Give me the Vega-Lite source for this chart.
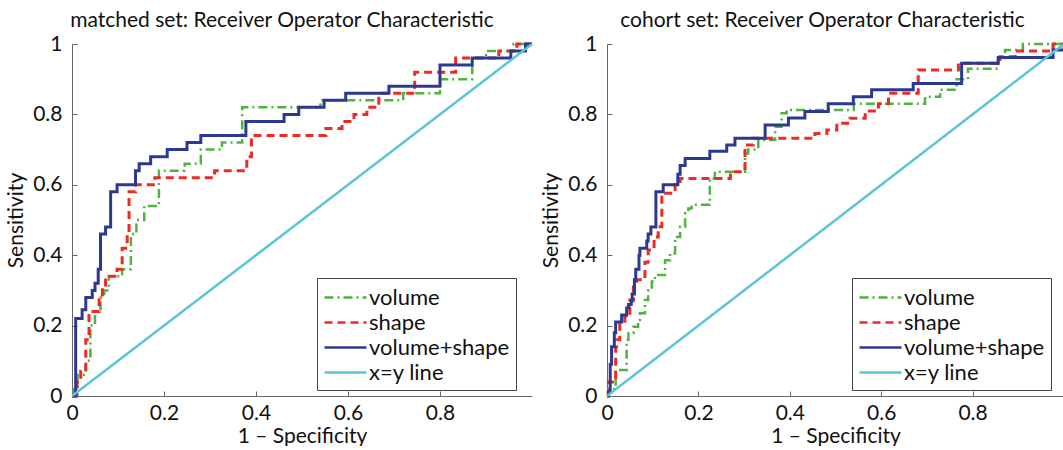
{
  "$schema": "https://vega.github.io/schema/vega-lite/v6.json",
  "background": "white",
  "padding": {"left": 5, "top": 10, "right": 0, "bottom": 0},
  "config": {
    "font": "Lato",
    "view": {"stroke": null},
    "concat": {"spacing": 2},
    "axis": {"grid": false, "domainColor": "#666", "domainWidth": 1, "tickColor": "#666", "tickSize": -5, "labelFontSize": 21, "labelColor": "#111", "titleFontSize": 21, "titleFontWeight": "normal", "titleColor": "#111", "labelFont": "Lato", "titleFont": "Lato", "labelFlush": false},
    "axisY": {"labelPadding": 15, "titlePadding": 6},
    "axisX": {"labelPadding": 11, "titlePadding": 2},
    "title": {"fontSize": 21, "fontWeight": "normal", "color": "#111", "font": "Lato", "offset": 2},
    "legend": {"labelFontSize": 22, "labelFont": "Lato", "labelColor": "#111", "strokeColor": "#444", "fillColor": "white", "padding": 6, "symbolType": "M-1.75,0H1.75", "symbolSize": 576, "symbolStrokeWidth": 2.5, "rowPadding": 0, "labelOffset": 10, "symbolOffset": 9}
  },
  "datasets": {
    "roc": [
      {"panel": "matched", "series": "volume", "fpr": 0, "tpr": 0},
      {"panel": "matched", "series": "volume", "fpr": 0.004, "tpr": 0.02},
      {"panel": "matched", "series": "volume", "fpr": 0.012, "tpr": 0.06},
      {"panel": "matched", "series": "volume", "fpr": 0.03, "tpr": 0.10},
      {"panel": "matched", "series": "volume", "fpr": 0.04, "tpr": 0.20},
      {"panel": "matched", "series": "volume", "fpr": 0.05, "tpr": 0.24},
      {"panel": "matched", "series": "volume", "fpr": 0.062, "tpr": 0.28},
      {"panel": "matched", "series": "volume", "fpr": 0.07, "tpr": 0.30},
      {"panel": "matched", "series": "volume", "fpr": 0.08, "tpr": 0.34},
      {"panel": "matched", "series": "volume", "fpr": 0.109, "tpr": 0.36},
      {"panel": "matched", "series": "volume", "fpr": 0.128, "tpr": 0.46},
      {"panel": "matched", "series": "volume", "fpr": 0.14, "tpr": 0.50},
      {"panel": "matched", "series": "volume", "fpr": 0.157, "tpr": 0.54},
      {"panel": "matched", "series": "volume", "fpr": 0.189, "tpr": 0.64},
      {"panel": "matched", "series": "volume", "fpr": 0.245, "tpr": 0.66},
      {"panel": "matched", "series": "volume", "fpr": 0.28, "tpr": 0.70},
      {"panel": "matched", "series": "volume", "fpr": 0.326, "tpr": 0.72},
      {"panel": "matched", "series": "volume", "fpr": 0.37, "tpr": 0.82},
      {"panel": "matched", "series": "volume", "fpr": 0.54, "tpr": 0.84},
      {"panel": "matched", "series": "volume", "fpr": 0.72, "tpr": 0.86},
      {"panel": "matched", "series": "volume", "fpr": 0.80, "tpr": 0.90},
      {"panel": "matched", "series": "volume", "fpr": 0.87, "tpr": 0.96},
      {"panel": "matched", "series": "volume", "fpr": 0.90, "tpr": 0.98},
      {"panel": "matched", "series": "volume", "fpr": 0.96, "tpr": 1.0},
      {"panel": "matched", "series": "volume", "fpr": 1.0, "tpr": 1.0},

      {"panel": "matched", "series": "shape", "fpr": 0, "tpr": 0},
      {"panel": "matched", "series": "shape", "fpr": 0.011, "tpr": 0.04},
      {"panel": "matched", "series": "shape", "fpr": 0.019, "tpr": 0.07},
      {"panel": "matched", "series": "shape", "fpr": 0.03, "tpr": 0.16},
      {"panel": "matched", "series": "shape", "fpr": 0.037, "tpr": 0.24},
      {"panel": "matched", "series": "shape", "fpr": 0.059, "tpr": 0.28},
      {"panel": "matched", "series": "shape", "fpr": 0.066, "tpr": 0.31},
      {"panel": "matched", "series": "shape", "fpr": 0.073, "tpr": 0.34},
      {"panel": "matched", "series": "shape", "fpr": 0.098, "tpr": 0.36},
      {"panel": "matched", "series": "shape", "fpr": 0.109, "tpr": 0.42},
      {"panel": "matched", "series": "shape", "fpr": 0.12, "tpr": 0.46},
      {"panel": "matched", "series": "shape", "fpr": 0.124, "tpr": 0.58},
      {"panel": "matched", "series": "shape", "fpr": 0.138, "tpr": 0.60},
      {"panel": "matched", "series": "shape", "fpr": 0.18, "tpr": 0.62},
      {"panel": "matched", "series": "shape", "fpr": 0.31, "tpr": 0.64},
      {"panel": "matched", "series": "shape", "fpr": 0.38, "tpr": 0.68},
      {"panel": "matched", "series": "shape", "fpr": 0.39, "tpr": 0.74},
      {"panel": "matched", "series": "shape", "fpr": 0.552, "tpr": 0.76},
      {"panel": "matched", "series": "shape", "fpr": 0.587, "tpr": 0.78},
      {"panel": "matched", "series": "shape", "fpr": 0.613, "tpr": 0.80},
      {"panel": "matched", "series": "shape", "fpr": 0.641, "tpr": 0.82},
      {"panel": "matched", "series": "shape", "fpr": 0.667, "tpr": 0.86},
      {"panel": "matched", "series": "shape", "fpr": 0.745, "tpr": 0.92},
      {"panel": "matched", "series": "shape", "fpr": 0.834, "tpr": 0.96},
      {"panel": "matched", "series": "shape", "fpr": 0.928, "tpr": 0.98},
      {"panel": "matched", "series": "shape", "fpr": 0.967, "tpr": 1.0},
      {"panel": "matched", "series": "shape", "fpr": 1.0, "tpr": 1.0},

      {"panel": "matched", "series": "volume+shape", "fpr": 0, "tpr": 0},
      {"panel": "matched", "series": "volume+shape", "fpr": 0.008, "tpr": 0.22},
      {"panel": "matched", "series": "volume+shape", "fpr": 0.022, "tpr": 0.245},
      {"panel": "matched", "series": "volume+shape", "fpr": 0.03, "tpr": 0.28},
      {"panel": "matched", "series": "volume+shape", "fpr": 0.044, "tpr": 0.30},
      {"panel": "matched", "series": "volume+shape", "fpr": 0.05, "tpr": 0.32},
      {"panel": "matched", "series": "volume+shape", "fpr": 0.057, "tpr": 0.36},
      {"panel": "matched", "series": "volume+shape", "fpr": 0.062, "tpr": 0.46},
      {"panel": "matched", "series": "volume+shape", "fpr": 0.073, "tpr": 0.48},
      {"panel": "matched", "series": "volume+shape", "fpr": 0.084, "tpr": 0.58},
      {"panel": "matched", "series": "volume+shape", "fpr": 0.098, "tpr": 0.60},
      {"panel": "matched", "series": "volume+shape", "fpr": 0.138, "tpr": 0.64},
      {"panel": "matched", "series": "volume+shape", "fpr": 0.146, "tpr": 0.66},
      {"panel": "matched", "series": "volume+shape", "fpr": 0.171, "tpr": 0.68},
      {"panel": "matched", "series": "volume+shape", "fpr": 0.207, "tpr": 0.70},
      {"panel": "matched", "series": "volume+shape", "fpr": 0.25, "tpr": 0.72},
      {"panel": "matched", "series": "volume+shape", "fpr": 0.28, "tpr": 0.74},
      {"panel": "matched", "series": "volume+shape", "fpr": 0.378, "tpr": 0.78},
      {"panel": "matched", "series": "volume+shape", "fpr": 0.461, "tpr": 0.80},
      {"panel": "matched", "series": "volume+shape", "fpr": 0.493, "tpr": 0.82},
      {"panel": "matched", "series": "volume+shape", "fpr": 0.548, "tpr": 0.84},
      {"panel": "matched", "series": "volume+shape", "fpr": 0.595, "tpr": 0.86},
      {"panel": "matched", "series": "volume+shape", "fpr": 0.689, "tpr": 0.88},
      {"panel": "matched", "series": "volume+shape", "fpr": 0.80, "tpr": 0.94},
      {"panel": "matched", "series": "volume+shape", "fpr": 0.87, "tpr": 0.96},
      {"panel": "matched", "series": "volume+shape", "fpr": 0.954, "tpr": 0.98},
      {"panel": "matched", "series": "volume+shape", "fpr": 0.986, "tpr": 1.0},
      {"panel": "matched", "series": "volume+shape", "fpr": 1.0, "tpr": 1.0},

      {"panel": "matched", "series": "x=y line", "fpr": 0, "tpr": 0},
      {"panel": "matched", "series": "x=y line", "fpr": 1, "tpr": 1},

      {"panel": "cohort", "series": "volume", "fpr": 0, "tpr": 0},
      {"panel": "cohort", "series": "volume", "fpr": 0.003, "tpr": 0.02},
      {"panel": "cohort", "series": "volume", "fpr": 0.019, "tpr": 0.074},
      {"panel": "cohort", "series": "volume", "fpr": 0.043, "tpr": 0.16},
      {"panel": "cohort", "series": "volume", "fpr": 0.047, "tpr": 0.178},
      {"panel": "cohort", "series": "volume", "fpr": 0.058, "tpr": 0.197},
      {"panel": "cohort", "series": "volume", "fpr": 0.068, "tpr": 0.216},
      {"panel": "cohort", "series": "volume", "fpr": 0.072, "tpr": 0.235},
      {"panel": "cohort", "series": "volume", "fpr": 0.083, "tpr": 0.273},
      {"panel": "cohort", "series": "volume", "fpr": 0.09, "tpr": 0.30},
      {"panel": "cohort", "series": "volume", "fpr": 0.098, "tpr": 0.325},
      {"panel": "cohort", "series": "volume", "fpr": 0.105, "tpr": 0.344},
      {"panel": "cohort", "series": "volume", "fpr": 0.127, "tpr": 0.386},
      {"panel": "cohort", "series": "volume", "fpr": 0.138, "tpr": 0.405},
      {"panel": "cohort", "series": "volume", "fpr": 0.149, "tpr": 0.452},
      {"panel": "cohort", "series": "volume", "fpr": 0.16, "tpr": 0.481},
      {"panel": "cohort", "series": "volume", "fpr": 0.171, "tpr": 0.519},
      {"panel": "cohort", "series": "volume", "fpr": 0.178, "tpr": 0.533},
      {"panel": "cohort", "series": "volume", "fpr": 0.185, "tpr": 0.543},
      {"panel": "cohort", "series": "volume", "fpr": 0.225, "tpr": 0.618},
      {"panel": "cohort", "series": "volume", "fpr": 0.236, "tpr": 0.637},
      {"panel": "cohort", "series": "volume", "fpr": 0.302, "tpr": 0.689},
      {"panel": "cohort", "series": "volume", "fpr": 0.309, "tpr": 0.70},
      {"panel": "cohort", "series": "volume", "fpr": 0.331, "tpr": 0.727},
      {"panel": "cohort", "series": "volume", "fpr": 0.368, "tpr": 0.765},
      {"panel": "cohort", "series": "volume", "fpr": 0.382, "tpr": 0.803},
      {"panel": "cohort", "series": "volume", "fpr": 0.393, "tpr": 0.8125},
      {"panel": "cohort", "series": "volume", "fpr": 0.54, "tpr": 0.83},
      {"panel": "cohort", "series": "volume", "fpr": 0.696, "tpr": 0.85},
      {"panel": "cohort", "series": "volume", "fpr": 0.729, "tpr": 0.87},
      {"panel": "cohort", "series": "volume", "fpr": 0.765, "tpr": 0.90},
      {"panel": "cohort", "series": "volume", "fpr": 0.79, "tpr": 0.93},
      {"panel": "cohort", "series": "volume", "fpr": 0.856, "tpr": 0.96},
      {"panel": "cohort", "series": "volume", "fpr": 0.871, "tpr": 0.983},
      {"panel": "cohort", "series": "volume", "fpr": 0.91, "tpr": 1.0},
      {"panel": "cohort", "series": "volume", "fpr": 1.0, "tpr": 1.0},

      {"panel": "cohort", "series": "shape", "fpr": 0, "tpr": 0},
      {"panel": "cohort", "series": "shape", "fpr": 0.003, "tpr": 0.04},
      {"panel": "cohort", "series": "shape", "fpr": 0.019, "tpr": 0.14},
      {"panel": "cohort", "series": "shape", "fpr": 0.021, "tpr": 0.16},
      {"panel": "cohort", "series": "shape", "fpr": 0.028, "tpr": 0.206},
      {"panel": "cohort", "series": "shape", "fpr": 0.039, "tpr": 0.225},
      {"panel": "cohort", "series": "shape", "fpr": 0.05, "tpr": 0.273},
      {"panel": "cohort", "series": "shape", "fpr": 0.058, "tpr": 0.31},
      {"panel": "cohort", "series": "shape", "fpr": 0.065, "tpr": 0.33},
      {"panel": "cohort", "series": "shape", "fpr": 0.083, "tpr": 0.38},
      {"panel": "cohort", "series": "shape", "fpr": 0.09, "tpr": 0.415},
      {"panel": "cohort", "series": "shape", "fpr": 0.103, "tpr": 0.452},
      {"panel": "cohort", "series": "shape", "fpr": 0.112, "tpr": 0.481},
      {"panel": "cohort", "series": "shape", "fpr": 0.12, "tpr": 0.576},
      {"panel": "cohort", "series": "shape", "fpr": 0.149, "tpr": 0.60},
      {"panel": "cohort", "series": "shape", "fpr": 0.16, "tpr": 0.618},
      {"panel": "cohort", "series": "shape", "fpr": 0.27, "tpr": 0.637},
      {"panel": "cohort", "series": "shape", "fpr": 0.302, "tpr": 0.713},
      {"panel": "cohort", "series": "shape", "fpr": 0.32, "tpr": 0.732},
      {"panel": "cohort", "series": "shape", "fpr": 0.455, "tpr": 0.746},
      {"panel": "cohort", "series": "shape", "fpr": 0.481, "tpr": 0.756},
      {"panel": "cohort", "series": "shape", "fpr": 0.503, "tpr": 0.775},
      {"panel": "cohort", "series": "shape", "fpr": 0.532, "tpr": 0.789},
      {"panel": "cohort", "series": "shape", "fpr": 0.565, "tpr": 0.81},
      {"panel": "cohort", "series": "shape", "fpr": 0.594, "tpr": 0.83},
      {"panel": "cohort", "series": "shape", "fpr": 0.616, "tpr": 0.86},
      {"panel": "cohort", "series": "shape", "fpr": 0.681, "tpr": 0.926},
      {"panel": "cohort", "series": "shape", "fpr": 0.769, "tpr": 0.945},
      {"panel": "cohort", "series": "shape", "fpr": 0.86, "tpr": 0.964},
      {"panel": "cohort", "series": "shape", "fpr": 0.893, "tpr": 0.98},
      {"panel": "cohort", "series": "shape", "fpr": 0.976, "tpr": 1.0},
      {"panel": "cohort", "series": "shape", "fpr": 1.0, "tpr": 1.0},

      {"panel": "cohort", "series": "volume+shape", "fpr": 0, "tpr": 0},
      {"panel": "cohort", "series": "volume+shape", "fpr": 0.003, "tpr": 0.01},
      {"panel": "cohort", "series": "volume+shape", "fpr": 0.007, "tpr": 0.09},
      {"panel": "cohort", "series": "volume+shape", "fpr": 0.010, "tpr": 0.14},
      {"panel": "cohort", "series": "volume+shape", "fpr": 0.016, "tpr": 0.18},
      {"panel": "cohort", "series": "volume+shape", "fpr": 0.019, "tpr": 0.21},
      {"panel": "cohort", "series": "volume+shape", "fpr": 0.032, "tpr": 0.23},
      {"panel": "cohort", "series": "volume+shape", "fpr": 0.043, "tpr": 0.25},
      {"panel": "cohort", "series": "volume+shape", "fpr": 0.047, "tpr": 0.26},
      {"panel": "cohort", "series": "volume+shape", "fpr": 0.053, "tpr": 0.27},
      {"panel": "cohort", "series": "volume+shape", "fpr": 0.055, "tpr": 0.29},
      {"panel": "cohort", "series": "volume+shape", "fpr": 0.060, "tpr": 0.33},
      {"panel": "cohort", "series": "volume+shape", "fpr": 0.063, "tpr": 0.36},
      {"panel": "cohort", "series": "volume+shape", "fpr": 0.070, "tpr": 0.40},
      {"panel": "cohort", "series": "volume+shape", "fpr": 0.072, "tpr": 0.42},
      {"panel": "cohort", "series": "volume+shape", "fpr": 0.087, "tpr": 0.44},
      {"panel": "cohort", "series": "volume+shape", "fpr": 0.09, "tpr": 0.46},
      {"panel": "cohort", "series": "volume+shape", "fpr": 0.096, "tpr": 0.48},
      {"panel": "cohort", "series": "volume+shape", "fpr": 0.107, "tpr": 0.58},
      {"panel": "cohort", "series": "volume+shape", "fpr": 0.123, "tpr": 0.60},
      {"panel": "cohort", "series": "volume+shape", "fpr": 0.155, "tpr": 0.63},
      {"panel": "cohort", "series": "volume+shape", "fpr": 0.16, "tpr": 0.655},
      {"panel": "cohort", "series": "volume+shape", "fpr": 0.171, "tpr": 0.675},
      {"panel": "cohort", "series": "volume+shape", "fpr": 0.225, "tpr": 0.695},
      {"panel": "cohort", "series": "volume+shape", "fpr": 0.262, "tpr": 0.713},
      {"panel": "cohort", "series": "volume+shape", "fpr": 0.28, "tpr": 0.732},
      {"panel": "cohort", "series": "volume+shape", "fpr": 0.346, "tpr": 0.77},
      {"panel": "cohort", "series": "volume+shape", "fpr": 0.397, "tpr": 0.79},
      {"panel": "cohort", "series": "volume+shape", "fpr": 0.433, "tpr": 0.808},
      {"panel": "cohort", "series": "volume+shape", "fpr": 0.484, "tpr": 0.83},
      {"panel": "cohort", "series": "volume+shape", "fpr": 0.539, "tpr": 0.85},
      {"panel": "cohort", "series": "volume+shape", "fpr": 0.579, "tpr": 0.87},
      {"panel": "cohort", "series": "volume+shape", "fpr": 0.67, "tpr": 0.888},
      {"panel": "cohort", "series": "volume+shape", "fpr": 0.776, "tpr": 0.945},
      {"panel": "cohort", "series": "volume+shape", "fpr": 0.856, "tpr": 0.962},
      {"panel": "cohort", "series": "volume+shape", "fpr": 0.976, "tpr": 0.983},
      {"panel": "cohort", "series": "volume+shape", "fpr": 1.0, "tpr": 1.0},

      {"panel": "cohort", "series": "x=y line", "fpr": 0, "tpr": 0},
      {"panel": "cohort", "series": "x=y line", "fpr": 1, "tpr": 1}
    ]
  },
  "hconcat": [
    {
      "width": 460,
      "height": 352,
      "title": {"text": "matched set: Receiver Operator Characteristic", "dx": -20},
      "data": {"name": "roc"},
      "transform": [{"filter": "datum.panel === 'matched'"}],
      "encoding": {
        "x": {"field": "fpr", "type": "quantitative", "scale": {"domain": [0, 1], "nice": false}, "axis": {"title": "1 – Specificity", "values": [0, 0.2, 0.4, 0.6, 0.8], "format": "~g"}},
        "y": {"field": "tpr", "type": "quantitative", "scale": {"domain": [0, 1], "nice": false}, "axis": {"title": "Sensitivity", "values": [0, 0.2, 0.4, 0.6, 0.8, 1], "format": "~g"}},
        "color": {"field": "series", "type": "nominal", "scale": {"domain": ["volume", "shape", "volume+shape", "x=y line"], "range": ["#4fb33f", "#ee2a24", "#2b3990", "#5bc5d8"]}, "legend": {"title": null, "orient": "none", "legendX": 245, "legendY": 234}},
        "strokeDash": {"field": "series", "type": "nominal", "scale": {"domain": ["volume", "shape", "volume+shape", "x=y line"], "range": [[9, 4, 2, 4], [8, 5], [1, 0], [1, 0]]}, "legend": {"title": null, "orient": "none", "legendX": 245, "legendY": 234}}
      },
      "layer": [
        {"transform": [{"filter": "datum.series === 'volume'"}], "mark": {"type": "line", "interpolate": "step-after", "strokeWidth": 2.5}},
        {"transform": [{"filter": "datum.series === 'shape'"}], "mark": {"type": "line", "interpolate": "step-after", "strokeWidth": 3}},
        {"transform": [{"filter": "datum.series === 'volume+shape'"}], "mark": {"type": "line", "interpolate": "step-after", "strokeWidth": 3}},
        {"transform": [{"filter": "datum.series === 'x=y line'"}], "mark": {"type": "line", "strokeWidth": 2.5}}
      ]
    },
    {
      "width": 457,
      "height": 352,
      "title": {"text": "cohort set: Receiver Operator Characteristic", "dx": -13},
      "data": {"name": "roc"},
      "transform": [{"filter": "datum.panel === 'cohort'"}],
      "encoding": {
        "x": {"field": "fpr", "type": "quantitative", "scale": {"domain": [0, 1], "nice": false}, "axis": {"title": "1 – Specificity", "values": [0, 0.2, 0.4, 0.6, 0.8], "format": "~g"}},
        "y": {"field": "tpr", "type": "quantitative", "scale": {"domain": [0, 1], "nice": false}, "axis": {"title": "Sensitivity", "values": [0, 0.2, 0.4, 0.6, 0.8, 1], "format": "~g"}},
        "color": {"field": "series", "type": "nominal", "scale": {"domain": ["volume", "shape", "volume+shape", "x=y line"], "range": ["#4fb33f", "#ee2a24", "#2b3990", "#5bc5d8"]}, "legend": {"title": null, "orient": "none", "legendX": 245, "legendY": 234}},
        "strokeDash": {"field": "series", "type": "nominal", "scale": {"domain": ["volume", "shape", "volume+shape", "x=y line"], "range": [[9, 4, 2, 4], [8, 5], [1, 0], [1, 0]]}, "legend": {"title": null, "orient": "none", "legendX": 245, "legendY": 234}}
      },
      "layer": [
        {"transform": [{"filter": "datum.series === 'volume'"}], "mark": {"type": "line", "interpolate": "step-after", "strokeWidth": 2.5}},
        {"transform": [{"filter": "datum.series === 'shape'"}], "mark": {"type": "line", "interpolate": "step-after", "strokeWidth": 3}},
        {"transform": [{"filter": "datum.series === 'volume+shape'"}], "mark": {"type": "line", "interpolate": "step-after", "strokeWidth": 3}},
        {"transform": [{"filter": "datum.series === 'x=y line'"}], "mark": {"type": "line", "strokeWidth": 2.5}}
      ]
    }
  ],
  "resolve": {
    "scale": {"color": "independent", "strokeDash": "independent"},
    "legend": {"color": "independent", "strokeDash": "independent"}
  }
}
